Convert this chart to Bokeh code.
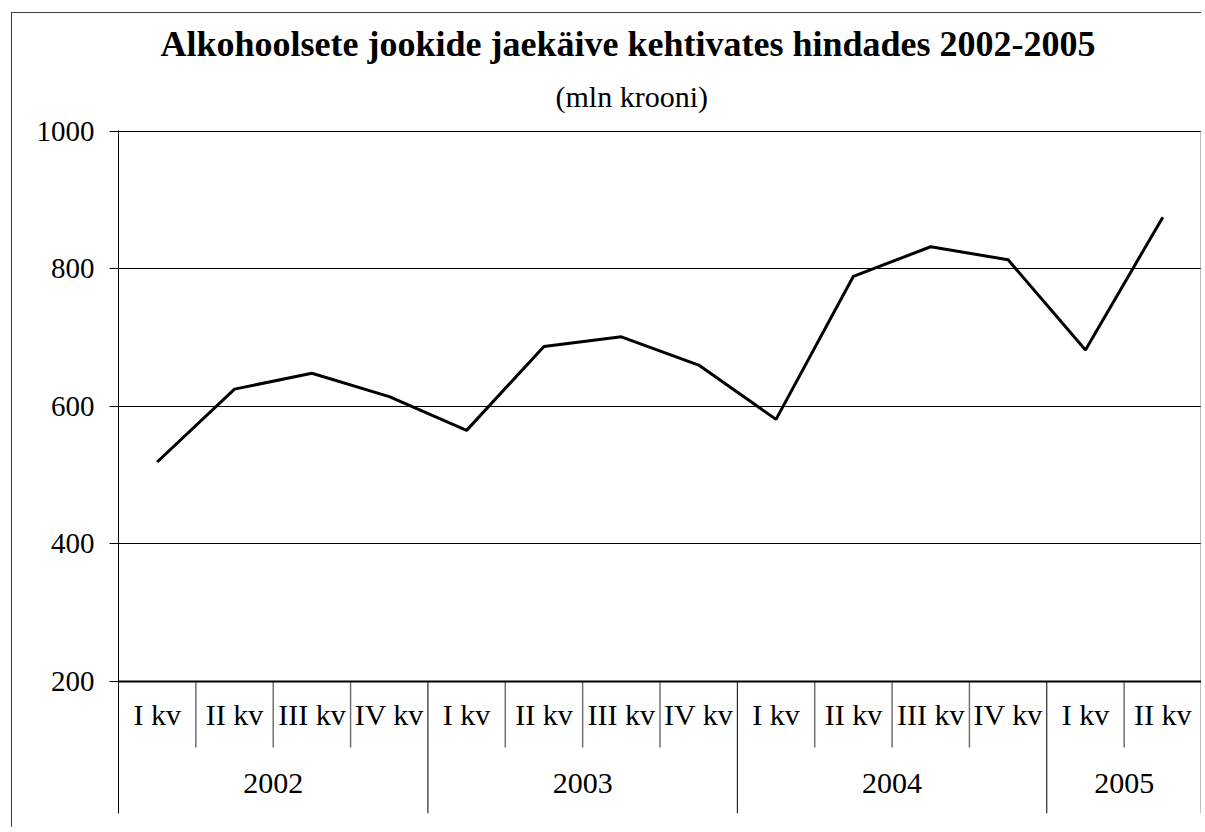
from bokeh.plotting import figure
from bokeh.models import Range1d, FixedTicker, Title, Span, ColumnDataSource
from bokeh.core.properties import value
from bokeh.embed import file_html
from bokeh.resources import INLINE

# ---- data ----
period_year = ["2002", "2002", "2002", "2002",
               "2003", "2003", "2003", "2003",
               "2004", "2004", "2004", "2004",
               "2005", "2005"]
period_quarter = ["I kv", "II kv", "III kv", "IV kv",
                  "I kv", "II kv", "III kv", "IV kv",
                  "I kv", "II kv", "III kv", "IV kv",
                  "I kv", "II kv"]
turnover = [519, 625, 648, 614, 565, 687, 701, 660, 581, 789, 832, 813, 682, 875]
y_ticks = [200, 400, 600, 800, 1000]

title_text = "Alkohoolsete jookide jaekäive kehtivates hindades 2002-2005"
subtitle_text = "(mln krooni)"

FONT = "Liberation Serif"

n = len(turnover)
x_centers = [i + 0.5 for i in range(n)]

# year groups
years = []
year_start = []
year_end = []
for i, yv in enumerate(period_year):
    if not years or years[-1] != yv:
        years.append(yv)
        year_start.append(i)
        year_end.append(i + 1)
    else:
        year_end[-1] = i + 1
year_centers = [(s + e) / 2 for s, e in zip(year_start, year_end)]
year_bounds = year_end[:-1]
quarter_bounds = [i for i in range(1, n) if i not in year_bounds]

Y_MIN = 8
Y_MAX = 1001
QUARTER_ROW_Y = 152
YEAR_ROW_Y = 52
QUARTER_SEP_BOTTOM = 104

p = figure(width=1190, height=815,
           x_range=Range1d(0, n), y_range=Range1d(Y_MIN, Y_MAX),
           x_axis_location=None,
           output_backend="svg", toolbar_location=None,
           min_border_left=106, min_border_right=1,
           min_border_top=117, min_border_bottom=15,
           styles={"position": "relative", "left": "11px", "top": "12px",
                   "border-left": "1px solid #404040",
                   "border-top": "1px solid #404040"})

p.outline_line_color = None
p.background_fill_color = "white"
p.border_fill_color = "white"

# titles (left-aligned with offsets so they centre on the whole chart box)
p.title.text = title_text
p.title.align = "left"
p.title.offset = 42
p.title.text_font = FONT
p.title.text_font_style = "bold"
p.title.text_font_size = "36px"
p.title.text_color = "black"
p.title.standoff = 0
p.title.vertical_align = "bottom"
p.add_layout(Title(text=subtitle_text, align="left", offset=437, text_font=FONT,
                   text_font_style="normal", text_font_size="30px",
                   text_color="black", standoff=32, vertical_align="top"), "above")

# y axis
yax = p.yaxis[0]
yax.ticker = FixedTicker(ticks=y_ticks)
yax.minor_tick_line_color = None
yax.major_tick_out = 9
yax.major_tick_in = 0
yax.major_tick_line_color = "black"
yax.axis_line_color = "black"
yax.major_label_text_font = FONT
yax.major_label_text_font_size = "29px"
yax.major_label_text_color = "black"
yax.major_label_standoff = 15

p.xgrid.visible = False
p.ygrid.ticker = FixedTicker(ticks=y_ticks[1:])
p.ygrid.grid_line_color = "black"
p.ygrid.grid_line_width = 1

p.add_layout(Span(location=y_ticks[0], dimension="width", line_color="black", line_width=2))

# right border of plot area
p.segment(x0=[n], y0=[Y_MIN], x1=[n], y1=[Y_MAX], line_color="#808080", line_width=2)

# category table separators
p.segment(x0=quarter_bounds, y0=[y_ticks[0]] * len(quarter_bounds),
          x1=quarter_bounds, y1=[QUARTER_SEP_BOTTOM] * len(quarter_bounds),
          line_color="#707070", line_width=1.5)
p.segment(x0=year_bounds, y0=[y_ticks[0]] * len(year_bounds),
          x1=year_bounds, y1=[Y_MIN] * len(year_bounds),
          line_color="black", line_width=1)

# data line
src = ColumnDataSource(dict(x=x_centers, y=turnover))
p.line("x", "y", source=src, line_color="black", line_width=3)

# category labels
p.text(x=x_centers, y=[QUARTER_ROW_Y] * n, text=period_quarter,
       text_font=value(FONT), text_font_size="30px", text_color="black",
       text_align="center", text_baseline="middle")
p.text(x=year_centers, y=[YEAR_ROW_Y] * len(years), text=years,
       text_font=value(FONT), text_font_size="30px", text_color="black",
       text_align="center", text_baseline="middle")

open("out.html", "w").write(file_html(p, INLINE))
